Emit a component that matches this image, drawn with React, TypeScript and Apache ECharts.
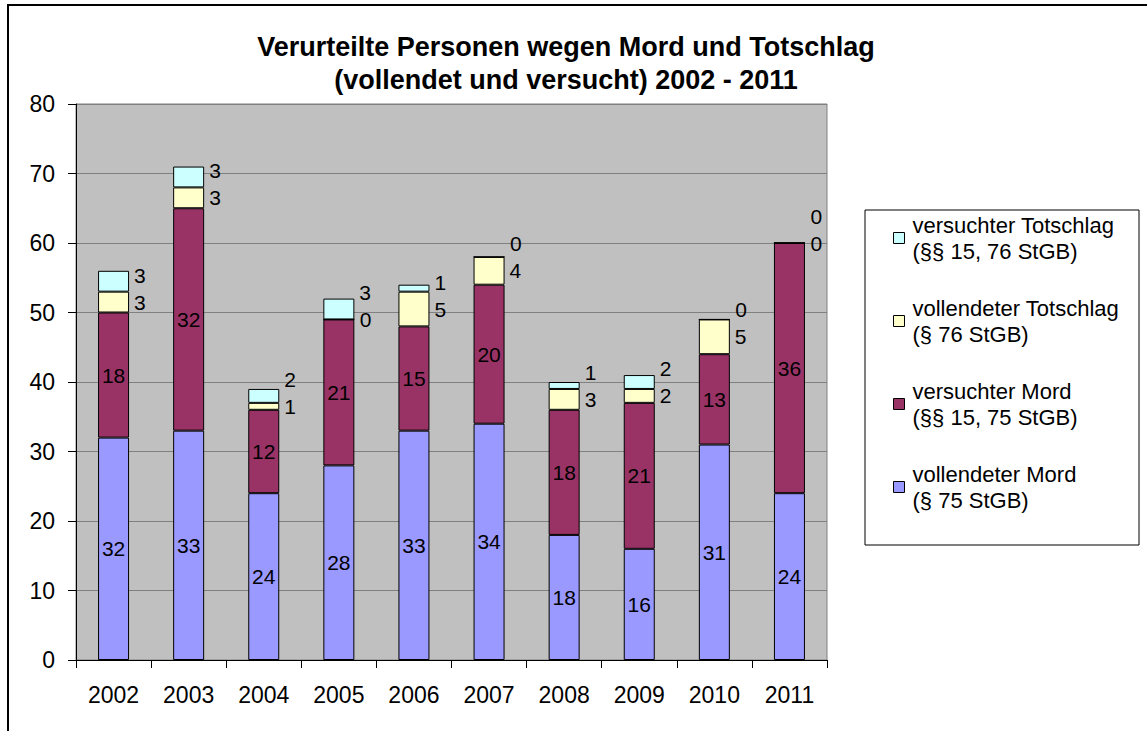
import React, { useEffect, useRef } from "react";
import * as echarts from "echarts";

const years = ["2002", "2003", "2004", "2005", "2006", "2007", "2008", "2009", "2010", "2011"];
const vollendeterMord = [32, 33, 24, 28, 33, 34, 18, 16, 31, 24];
const versuchterMord = [18, 32, 12, 21, 15, 20, 18, 21, 13, 36];
const vollendeterTotschlag = [3, 3, 1, 0, 5, 4, 3, 2, 5, 0];
const versuchterTotschlag = [3, 3, 2, 3, 1, 0, 1, 2, 0, 0];

const names = [
  "vollendeter Mord\n(§ 75 StGB)",
  "versuchter Mord\n(§§ 15, 75 StGB)",
  "vollendeter Totschlag\n(§ 76 StGB)",
  "versuchter Totschlag\n(§§ 15, 76 StGB)",
];
const colors = ["#9999FF", "#993366", "#FFFFCC", "#CCFFFF"];

const FONT = "'Liberation Sans', Arial, sans-serif";

export default function App() {
  const ref = useRef<HTMLDivElement>(null);
  useEffect(() => {
    if (!ref.current) return;
    const chart = echarts.init(ref.current, null, { renderer: "svg" });
    const gridTop = 104;
    const gridBottom = 71;
    const plotH = 731 - gridTop - gridBottom;
    const yMax = 80;
    const pxPerUnit = plotH / yMax;
    const minGap = 27;

    const topLabelData = versuchterTotschlag.map((v, i) => {
      const sep = ((v + vollendeterTotschlag[i]) / 2) * pxPerUnit;
      const dy = sep < minGap ? -(minGap - sep) : 0;
      return { value: v, label: { offset: [0, dy] } };
    });

    const insideLabel = {
      show: true,
      position: "inside",
      color: "#000",
      fontSize: 21,
      fontFamily: FONT,
    };
    const rightLabel = {
      show: true,
      position: "right",
      distance: 5,
      color: "#000",
      fontSize: 21,
      fontFamily: FONT,
    };
    const seriesData = [vollendeterMord, versuchterMord, vollendeterTotschlag, topLabelData];

    chart.setOption({
      animation: false,
      backgroundColor: "#fff",
      title: {
        text: "Verurteilte Personen wegen Mord und Totschlag\n(vollendet und versucht) 2002 - 2011",
        left: 566,
        top: 30,
        padding: 0,
        textAlign: "center",
        textStyle: {
          fontFamily: FONT,
          fontWeight: "bold",
          fontSize: 27,
          lineHeight: 33,
          color: "#000",
        },
      },
      legend: {
        orient: "vertical",
        left: 893,
        top: 199,
        padding: 0,
        itemGap: 5,
        itemWidth: 11,
        itemHeight: 11,
        icon: "rect",
        data: [names[3], names[2], names[1], names[0]],
        itemStyle: { borderColor: "#000", borderWidth: 1 },
        textStyle: {
          fontFamily: FONT,
          fontSize: 22,
          lineHeight: 26,
          color: "#000",
          padding: [26, 0, 0, 3],
        },
        selectedMode: false,
      },
      grid: {
        left: 76,
        right: 320,
        top: gridTop,
        bottom: gridBottom,
        show: true,
        backgroundColor: "#C0C0C0",
        borderColor: "#808080",
        borderWidth: 1,
      },
      xAxis: {
        type: "category",
        data: years,
        axisLine: { show: true, lineStyle: { color: "#000", width: 1 } },
        axisTick: { show: true, length: 8, interval: 0, alignWithLabel: false, lineStyle: { color: "#000" } },
        axisLabel: { fontFamily: FONT, fontSize: 23, color: "#000", margin: 23, interval: 0 },
        splitLine: { show: false },
      },
      yAxis: {
        type: "value",
        min: 0,
        max: yMax,
        interval: 10,
        axisLine: { show: true, lineStyle: { color: "#000", width: 1 } },
        axisTick: { show: true, length: 8, lineStyle: { color: "#000" } },
        axisLabel: { fontFamily: FONT, fontSize: 23, color: "#000", margin: 21 },
        splitLine: { show: true, lineStyle: { color: "#808080", width: 1 } },
      },
      graphic: [
        {
          type: "rect",
          shape: { x: 8, y: 5, width: 1300, height: 900 },
          style: { fill: "none", stroke: "#000", lineWidth: 2 },
          silent: true,
          z: 100,
        },
        {
          type: "rect",
          shape: { x: 865, y: 210, width: 274, height: 335 },
          style: { fill: "#fff", stroke: "#000", lineWidth: 1 },
          silent: true,
          z: -1,
        },
      ],
      series: names.map((n, i) => ({
        name: n,
        type: "bar",
        stack: "total",
        barWidth: 31,
        data: seriesData[i],
        itemStyle: { color: colors[i], borderColor: "#000", borderWidth: 1 },
        label: i < 2 ? insideLabel : rightLabel,
      })),
    });
    return () => chart.dispose();
  }, []);
  return (
    <div
      ref={ref}
      style={{ position: "absolute", left: 0, top: 0, width: 1147, height: 731 }}
    />
  );
}
